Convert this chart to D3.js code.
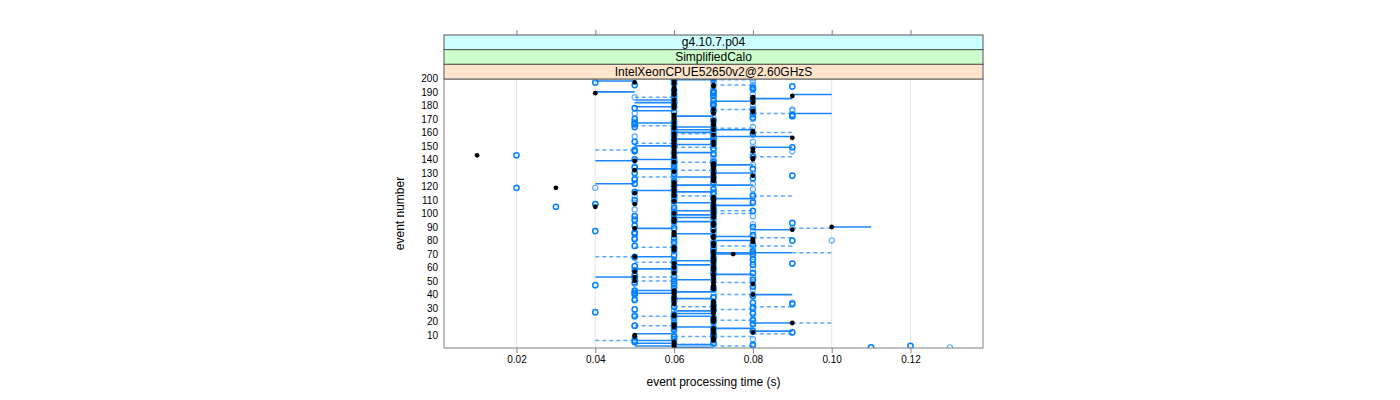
<!DOCTYPE html>
<html><head><meta charset="utf-8">
<script src="https://cdn.jsdelivr.net/npm/d3@7"></script>
<style>body{margin:0;background:#fff}svg text{font-family:"Liberation Sans",Arial,Helvetica,sans-serif}</style>
</head><body><svg id="c" width="1400" height="400"></svg>
<script>
// ---- data (times in units of 10 ms, index = event number - 1) ----
const stripLabels = ["g4.10.7.p04", "SimplifiedCalo", "IntelXeonCPUE52650v2@2.60GHzS"];
const xTicks = [0.02, 0.04, 0.06, 0.08, 0.10, 0.12];
const xTickLabels = ["0.02", "0.04", "0.06", "0.08", "0.10", "0.12"];
const yTicks = [10,20,30,40,50,60,70,80,90,100,110,120,130,140,150,160,170,180,190,200];

const blackPts = [
6,6,6,6,6,7,7,7,5,5, 7,8,7,7,7,6,6,6,9,7, 7,7,7,6,6,7,7,7,7,7, 7,7,6,7,7,6,6,6,6,8,
6,6,6,7,7,7,7,8,7,5, 7,7,5,7,7,6,5,7,7,6, 7,7,6,7,7,7,7,5,7,7.5, 7,7,6,6,6,7,7,7,8,8,
8,7,7,6,6,6,7,9,5,10, 7,7,7,6,6,6,7,7,7,6, 7,7,7,7,4,7,5,7,6,7, 7,7,6,6,5,6,6,6,3,6,
6,6,6,7,7,7,7,8,7,7, 6,5,7,7,7,7,7,6,5,8, 8,6,1,6,6,8,6,8,6,6, 7,6,7,6,6,9,6,7,6,8,
8,7,6,6,7,7,6,7,7,6, 6,6,6,7,8,8,7,6,6,6, 6,8,8,6,8,8,9,6,4,6, 6,6,6,7,7,6,5,6,6,7];

const bluePts = [
11,12,8,7,5,5,6,7,6,7, 7,9,8,6,7,6,5,8,6,7, 8,7,6,5,6,8,4,7,5,8, 6,7,9,8,6,5,6,7,8,5,
5,6,5,7,6,8,4,6,5,6, 8,5,6,5,7,8,6,5,7,6, 5,8,9,6,7,8,7,5,6,8, 7,8,6,7,6,5,8,7,6,9,
5,6,7,8,5,5,4,7,6,8, 5,7,9,6,5,6,7,5,6,7, 6,8,7,6,3,7,4,8,6,5, 7,6,8,6,7,5,6,7,2,6,
6,5,7,6,5,8,7,9,6,5, 7,6,8,5,6,7,6,7,6,5, 6,8,2,7,6,5,5,7,9,6, 6,7,5,6,7,6,7,6,8,6,
7,6,7,5,6,5,5,6,7,5, 8,9,9,8,6,7,8,5,6,7, 7,6,6,7,8,6,7,6,7,7, 6,8,8,9,5,6,4,6,7,6];

const lightPts = [
13,8,6,7,6,7,8,5,6,7, 6,7,8,7,6,7,5,6,8,7, 6,8,7,7,5,6,8,6,7,7, 8,6,7,9,7,6,5,7,6,8,
7,5,6,8,7,7,6,5,8,7, 6,7,8,6,5,7,7,6,8,7, 6,7,7,8,6,6,5,7,8,7, 8,6,7,6,8,7,6,8,7,10,
6,5,8,7,6,7,8,6,9,7, 6,8,7,6,7,5,6,8,7,6, 7,6,5,7,7,6,7,5,8,7, 6,7,5,8,6,7,6,8,4,6,
7,8,6,6,7,5,6,7,8,6, 6,7,6,7,5,8,7,6,7,6, 7,6,7,8,6,9,7,6,8,7, 7,6,8,7,6,7,5,8,7,6,
6,7,6,8,7,6,7,5,6,8, 7,6,8,5,7,9,9,6,7,8, 6,7,8,8,6,5,7,8,6,7, 7,6,7,8,8,7,6,8,6,8];

// horizontal step segments: [event, from, to] (10 ms units)
const solidSegs = [
[198,4,5],[199,6,7],[190,4,5],[188,9,10],[185,8,9],[184,5,6],[183,7,8],[182,5,6],[179,5,6],[176,5,6],
[174,9,10],[172,6,7],[167,5,6],[164,6,7],[162,6,8],[160,6,7],[157,7,9],[155,6,7],[151,6,7],[150,5,6],
[149,8,9],[145,6,7],[139,4,5],[140,5,6],[136,7,8],[133,5,6],[130,7,8],[127,6,7],[122,4,5],[121,6,8],
[117,5,6],[116,6,7],[111,7,8],[108,6,7],[106,7,8],[102,6,7],[99,6,7],[97,6,7],[94,6,7],[89,5,6],
[88,8,9],[90,10,11],[85,6,7],[83,7,8],[80,7,8],[71,7,9],[70,7,8],[68,5,6],[65,6,7],[62,6,7],
[59,5,6],[55,7,8],[53,4,5],[51,6,7],[43,5,6],[42,6,7],[41,5,6],[40,8,9],[37,6,7],[28,6,7],
[26,6,7],[24,6,7],[19,8,9],[16,6,7],[15,7,8],[13,8,9],[11,5,6],[6,5,6],[4,5,6],[3,6,7],[2,5,6],[1,6,7]];

const dashedSegs = [
[199,7,8],[195,7,8],[186,5,6],[177,7,8],[174,8,9],[165,5,6],[163,7,8],[160,8,9],[159,6,7],[152,5,6],
[149,6,7],[147,4,5],[142,8,9],[138,6,7],[132,6,7],[127,5,6],[113,8,9],[113,6,7],[102,7,8],[100,7,8],
[89,9,10],[82,8,9],[76,7,8],[76,8,9],[75,5,6],[71,9,10],[68,4,5],[64,5,6],[53,5,6],[50,5,6],
[49,7,8],[40,7,8],[31,6,7],[31,8,9],[29,7,8],[24,5,6],[21,7,8],[19,9,10],[17,5,6],[11,8,9],
[9,6,7],[9,7,8],[6,4,5],[3,6,7],[2,7,8]];

// ---- layout ----
const svg = d3.select("#c");
const L = 444, R = 983, T = 79, B = 348;
const stripTop = 35, stripH = 14.67;
const toS = v => v / 100;

const x = d3.scaleLinear().domain([0.0016, 0.1384]).range([L, R]);
const y = d3.scaleLinear().domain([0.5, 199.5]).range([B, T]);

svg.append("defs").append("clipPath").attr("id","pc")
  .append("rect").attr("x",L).attr("y",T).attr("width",R-L).attr("height",B-T);

// grid
svg.append("g").selectAll("line").data(xTicks).join("line")
  .attr("x1",d=>x(d)).attr("x2",d=>x(d)).attr("y1",T).attr("y2",B)
  .attr("stroke","#e6e6e6").attr("stroke-width",1);

const plot = svg.append("g").attr("clip-path","url(#pc)");

plot.append("g").selectAll("line").data(dashedSegs).join("line")
  .attr("x1",d=>x(toS(d[1]))).attr("x2",d=>x(toS(d[2])))
  .attr("y1",d=>y(d[0])).attr("y2",d=>y(d[0]))
  .attr("stroke","#5aa8ff").attr("stroke-width",1.5).attr("stroke-dasharray","4,3");

plot.append("g").selectAll("line").data(solidSegs).join("line")
  .attr("x1",d=>x(toS(d[1]))).attr("x2",d=>x(toS(d[2])))
  .attr("y1",d=>y(d[0])).attr("y2",d=>y(d[0]))
  .attr("stroke","#1a86ff").attr("stroke-width",1.6);

plot.append("g").selectAll("circle").data(lightPts).join("circle")
  .attr("cx",d=>x(toS(d))).attr("cy",(d,i)=>y(i+1)).attr("r",2.6)
  .attr("fill","none").attr("stroke","#5aa8ff").attr("stroke-width",1.1);

plot.append("g").selectAll("circle").data(bluePts).join("circle")
  .attr("cx",d=>x(toS(d))).attr("cy",(d,i)=>y(i+1)).attr("r",2.6)
  .attr("fill","none").attr("stroke","#0080ff").attr("stroke-width",1.5);

plot.append("g").selectAll("circle").data(blackPts).join("circle")
  .attr("cx",d=>x(toS(d))).attr("cy",(d,i)=>y(i+1)).attr("r",2.4)
  .attr("fill","#000");

// panel border
svg.append("rect").attr("x",L).attr("y",T).attr("width",R-L).attr("height",B-T)
  .attr("fill","none").attr("stroke","#808080").attr("stroke-width",1);

// strips
const stripCols = ["#ccffff","#ccffcc","#ffe5cc"];
stripLabels.forEach((s,i)=>{
  const yy = stripTop + i*stripH;
  svg.append("rect").attr("x",L).attr("y",yy).attr("width",R-L).attr("height",stripH)
    .attr("fill",stripCols[i]).attr("stroke","#555").attr("stroke-width",1);
  svg.append("text").attr("x",(L+R)/2).attr("y",yy+stripH/2+4).attr("text-anchor","middle")
    .attr("font-size","12px").attr("fill","#000").text(s);
});

// axes
const xb = svg.append("g").attr("transform",`translate(0,${B})`)
  .call(d3.axisBottom(x).tickValues(xTicks).tickFormat((d,i)=>xTickLabels[i]).tickSize(5).tickPadding(3));
xb.select(".domain").remove();
xb.selectAll("line").attr("stroke","#808080");
xb.selectAll("text").attr("font-size","10px").attr("fill","#000").style("font-family","Liberation Sans, Arial, sans-serif");

const xt = svg.append("g").attr("transform",`translate(0,${stripTop})`)
  .call(d3.axisTop(x).tickValues(xTicks).tickFormat("").tickSize(5));
xt.select(".domain").remove();
xt.selectAll("line").attr("stroke","#808080");

const yl = svg.append("g").attr("transform",`translate(${L},0)`)
  .call(d3.axisLeft(y).tickValues(yTicks).tickSize(0).tickPadding(6));
yl.select(".domain").remove();
yl.selectAll("text").attr("font-size","10px").attr("fill","#000").style("font-family","Liberation Sans, Arial, sans-serif");

svg.append("text").attr("x",(L+R)/2).attr("y",386).attr("text-anchor","middle")
  .attr("font-size","12px").text("event processing time (s)");
svg.append("text").attr("transform",`translate(404,${(T+B)/2}) rotate(-90)`)
  .attr("text-anchor","middle").attr("font-size","12px").text("event number");
</script></body></html>
